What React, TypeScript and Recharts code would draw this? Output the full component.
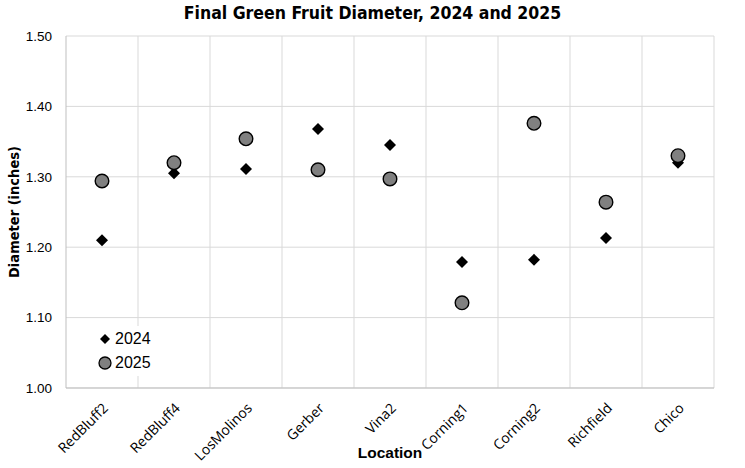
import React from "react";
import {
  ComposedChart,
  Scatter,
  XAxis,
  YAxis,
  CartesianGrid,
  Label,
} from "recharts";

// Final green fruit diameter (inches) per location
const locations = [
  "RedBluff2",
  "RedBluff4",
  "LosMolinos",
  "Gerber",
  "Vina2",
  "Corning1",
  "Corning2",
  "Richfield",
  "Chico",
];
const diameter2024 = [1.21, 1.305, 1.311, 1.368, 1.345, 1.179, 1.182, 1.213, 1.32];
const diameter2025 = [1.294, 1.32, 1.354, 1.31, 1.297, 1.121, 1.376, 1.264, 1.33];
const yTicks = [1.0, 1.1, 1.2, 1.3, 1.4, 1.5];

const data = locations.map((loc, i) => ({
  location: loc,
  y2024: diameter2024[i],
  y2025: diameter2025[i],
}));

const Diamond = (props: any) => {
  const { cx, cy } = props;
  if (cx == null || cy == null) return null;
  const r = 6;
  return (
    <polygon
      points={`${cx},${cy - r} ${cx + r},${cy} ${cx},${cy + r} ${cx - r},${cy}`}
      fill="#000"
    />
  );
};

const Dot = (props: any) => {
  const { cx, cy } = props;
  if (cx == null || cy == null) return null;
  return <circle cx={cx} cy={cy} r={6.8} fill="#808080" stroke="#000" strokeWidth={1.4} />;
};

// legend sits inside the plot area, lower left
const LegendBox = () => (
  <div
    style={{
      position: "absolute",
      left: 94,
      top: 326,
      background: "#fff",
      fontFamily: "'Liberation Sans', Arial, sans-serif",
      fontSize: 16,
      color: "#000",
      padding: "1px 3px",
      lineHeight: "24px",
    }}
  >
    <div style={{ display: "flex", alignItems: "center" }}>
      <svg width={16} height={16}>
        <polygon points="8,3 13,8 8,13 3,8" fill="#000" />
      </svg>
      <span style={{ marginLeft: 2 }}>2024</span>
    </div>
    <div style={{ display: "flex", alignItems: "center" }}>
      <svg width={16} height={16}>
        <circle cx={8} cy={8} r={6} fill="#808080" stroke="#000" strokeWidth={1.3} />
      </svg>
      <span style={{ marginLeft: 2 }}>2025</span>
    </div>
  </div>
);

export default function App() {
  const font = "'Open Sans', 'Liberation Sans', sans-serif";
  return (
    <div style={{ position: "absolute", left: 0, top: 0, width: 745, height: 468, background: "#fff" }}>
      <div
        style={{
          position: "absolute",
          top: 3,
          left: 0,
          width: 745,
          textAlign: "center",
          fontFamily: "'DejaVu Sans Condensed', 'Liberation Sans', sans-serif",
          fontWeight: "bold",
          fontSize: 17.5,
          color: "#000",
        }}
      >
        Final Green Fruit Diameter, 2024 and 2025
      </div>
      <ComposedChart
        width={745}
        height={468}
        data={data}
        margin={{ top: 36, right: 31, bottom: 20, left: 6 }}
      >
        <CartesianGrid
          stroke="#d9d9d9"
          strokeWidth={1}
          verticalCoordinatesGenerator={({ offset }: any) =>
            locations.map((_, i) => offset.left + (offset.width * (i + 1)) / locations.length)
          }
        />
        <XAxis
          dataKey="location"
          type="category"
          height={60}
          interval={0}
          padding={{ left: 36, right: 36 }}
          tickLine={false}
          axisLine={{ stroke: "#bfbfbf" }}
          tick={{ fill: "#000", fontSize: 14, fontFamily: font, angle: -45, textAnchor: "end", dy: 6, dx: 0 }}
        >
          <Label
            value="Location"
            position="insideBottom"
            offset={-10}
            style={{ fill: "#000", fontWeight: "bold", fontSize: 15.5, fontFamily: "'Liberation Sans', Arial, sans-serif" }}
          />
        </XAxis>
        <YAxis
          type="number"
          domain={[1.0, 1.5]}
          ticks={yTicks}
          width={60}
          tickLine={false}
          axisLine={{ stroke: "#bfbfbf" }}
          tickFormatter={(v: number) => v.toFixed(2)}
          tick={{ fill: "#000", fontSize: 13.5, fontFamily: "'Liberation Sans', Arial, sans-serif", dx: -6 }}
        >
          <Label
            value="Diameter (inches)"
            angle={-90}
            position="insideLeft"
            offset={0}
            dx={8}
            style={{
              fill: "#000",
              fontWeight: "bold",
              fontSize: 14.5,
              textAnchor: "middle",
              fontFamily: "'DejaVu Sans Condensed', 'Liberation Sans', sans-serif",
            }}
          />
        </YAxis>
        <Scatter name="2024" dataKey="y2024" shape={<Diamond />} isAnimationActive={false} />
        <Scatter name="2025" dataKey="y2025" shape={<Dot />} isAnimationActive={false} />
      </ComposedChart>
      <LegendBox />
    </div>
  );
}
